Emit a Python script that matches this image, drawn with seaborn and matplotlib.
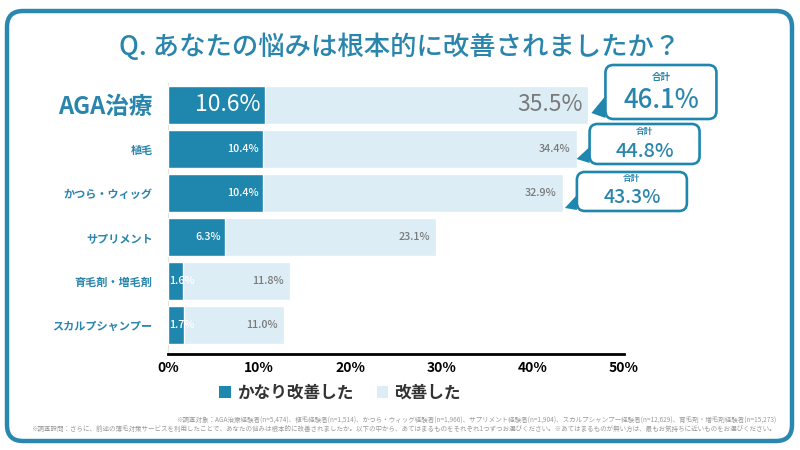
import matplotlib
matplotlib.use("Agg")
import matplotlib.pyplot as plt
import matplotlib.transforms as mtransforms
from matplotlib.patches import FancyBboxPatch, Polygon, Patch
import seaborn as sns
import pandas as pd

# ---- data ----
categories = ["AGA治療", "植毛", "かつら・ウィッグ", "サプリメント", "育毛剤・増毛剤", "スカルプシャンプー"]
strong_improved = [10.6, 10.4, 10.4, 6.3, 1.6, 1.7]
improved = [35.5, 34.4, 32.9, 23.1, 11.8, 11.0]
callout_totals = [46.1, 44.8, 43.3]
xticks = [0, 10, 20, 30, 40, 50]
legend_labels = ["かなり改善した", "改善した"]
title = "Q. あなたの悩みは根本的に改善されましたか？"
note1 = ("※調査対象：AGA治療経験者(n=5,474)、植毛経験者(n=1,514)、かつら・ウィッグ経験者(n=1,966)、"
         "サプリメント経験者(n=1,904)、スカルプシャンプー経験者(n=12,629)、育毛剤・増毛剤経験者(n=15,273)")
note2 = ("※調査設問：さらに、前述の薄毛対策サービスを利用したことで、あなたの悩みは根本的に改善されましたか。"
         "以下の中から、あてはまるものをそれぞれ1つずつお選びください。※あてはまるものが無い方は、最もお気持ちに近いものをお選びください。")

DARK = "#1f86ae"
LIGHT = "#dcedf5"
ACCENT = "#2a85ad"
GRAY = "#7a7a7a"

sns.set_theme(style="white")
plt.rcParams["font.family"] = ["Noto Sans CJK JP", "DejaVu Sans"]

df = pd.DataFrame({"cat": categories, "strong": strong_improved, "some": improved})
df["total"] = df["strong"] + df["some"]

fig = plt.figure(figsize=(8, 4.5), dpi=100)
W, H = 800, 450

# outer frame
frame = FancyBboxPatch((7 / W, 9 / H), 785 / W, 430 / H,
                       boxstyle="round,pad=0,rounding_size=0.02",
                       transform=fig.transFigure, fc="none", ec="#2a88b0", lw=3.2,
                       mutation_aspect=W / H, zorder=-5)
fig.patches.append(frame)

ax = fig.add_axes([168 / W, 1 - 354 / H, (624 - 168) / W, (354 - 83) / H])
ax.set_facecolor("none")

sns.barplot(data=df, x="total", y="cat", color=LIGHT, orient="h", width=0.87,
            saturation=1, ax=ax, zorder=2)
sns.barplot(data=df, x="strong", y="cat", color=DARK, orient="h", width=0.87,
            saturation=1, ax=ax, zorder=3)

ax.set_xlim(0, 50)
ax.set_ylim(5.66, -0.5)
ax.set_xticks(xticks)
ax.set_xticklabels([f"{t}%" for t in xticks], fontsize=10, fontweight="bold", color="black")
ax.set_xlabel("")
ax.set_ylabel("")
ax.tick_params(axis="x", length=0, pad=5)
ax.tick_params(axis="y", length=0, pad=11)
for i, lab in enumerate(ax.get_yticklabels()):
    lab.set_color(ACCENT)
    lab.set_fontweight("bold")
    lab.set_fontsize(17 if i == 0 else 8)

for s in ["top", "right"]:
    ax.spines[s].set_visible(False)
ax.spines["bottom"].set_color("black")
ax.spines["bottom"].set_linewidth(2)
ax.spines["bottom"].set_zorder(5)
ax.spines["left"].set_color("#e3e3e3")
ax.spines["left"].set_linewidth(0.8)

# value labels
for i, row in df.iterrows():
    big = i == 0
    fs = 16.5 if big else 7.8
    wt = "normal" if big else "medium"
    if row["strong"] >= 4:
        ax.text(row["strong"], i, f"{row['strong']:.1f}%", color="white", fontsize=fs,
                fontweight=wt, ha="right", va="center", zorder=6,
                transform=mtransforms.offset_copy(ax.transData, fig=fig, x=-4, y=0, units="dots"))
    else:
        ax.text(0, i, f"{row['strong']:.1f}%", color="white", fontsize=fs,
                fontweight=wt, ha="left", va="center", zorder=6,
                transform=mtransforms.offset_copy(ax.transData, fig=fig, x=1, y=0, units="dots"))
    ax.text(row["total"], i, f"{row['some']:.1f}%", color=GRAY, fontsize=fs,
            fontweight=wt, ha="right", va="center", zorder=6,
            transform=mtransforms.offset_copy(ax.transData, fig=fig, x=-6, y=0, units="dots"))

# callouts (offsets in pixels relative to the bar end, y up)
callout_cfg = [
    dict(box=(17, -14, 111, 54), tip=(3, -8), base=((17, 9), (17, -13)), lab_dy=28, val_dy=4, vfs=18.5, lfs=6.8),
    dict(box=(13, -15, 110, 40), tip=(0, -10), base=((13, 2), (13, -14)), lab_dy=17, val_dy=-3, vfs=14.3, lfs=6.2),
    dict(box=(14, -18, 110, 39), tip=(2, -15), base=((14, -2), (14, -17)), lab_dy=14, val_dy=-5, vfs=14, lfs=6.2),
]
for i, (tot, cfg) in enumerate(zip(callout_totals, callout_cfg)):
    tr = mtransforms.Affine2D() + mtransforms.ScaledTranslation(df["total"][i], i, ax.transData)
    bx, by, bw, bh = cfg["box"]
    tail = Polygon([cfg["tip"], cfg["base"][0], cfg["base"][1]], closed=True,
                   transform=tr, fc=DARK, ec="none", clip_on=False, zorder=7)
    fig.patches.append(tail)
    box = FancyBboxPatch((bx, by), bw, bh, boxstyle="round,pad=0,rounding_size=8",
                         transform=tr, fc="white", ec=DARK, lw=1.9, clip_on=False, zorder=8)
    fig.patches.append(box)
    cx = bx + bw / 2
    fig.text(cx, cfg["lab_dy"], "合計", transform=tr, ha="center", va="center",
             fontsize=cfg["lfs"], fontweight="bold", color=ACCENT, zorder=9)
    fig.text(cx, cfg["val_dy"], f"{tot:.1f}%", transform=tr, ha="center", va="center",
             fontsize=cfg["vfs"], fontweight="medium", color=ACCENT, zorder=9)

# title
fig.text(400 / W, 1 - 47 / H, title, ha="center", va="center", fontsize=19,
         fontweight="medium", color=ACCENT)

# legend
handles = [Patch(facecolor=DARK, edgecolor="none"), Patch(facecolor=LIGHT, edgecolor="none")]
fig.legend(handles, legend_labels, loc="center", bbox_to_anchor=(340 / W, 1 - 393 / H),
           ncol=2, frameon=False, handlelength=0.7, handleheight=0.7, handletextpad=0.35,
           columnspacing=1.4, prop={"size": 12, "weight": "bold"}, labelcolor="#333333")

# footnotes
fig.text(776 / W, 1 - 420 / H, note1, ha="right", va="center", fontsize=4.7, color="#9a9a9a")
fig.text(776 / W, 1 - 429 / H, note2, ha="right", va="center", fontsize=4.7, color="#9a9a9a")

fig.savefig("out.png", dpi=100)
